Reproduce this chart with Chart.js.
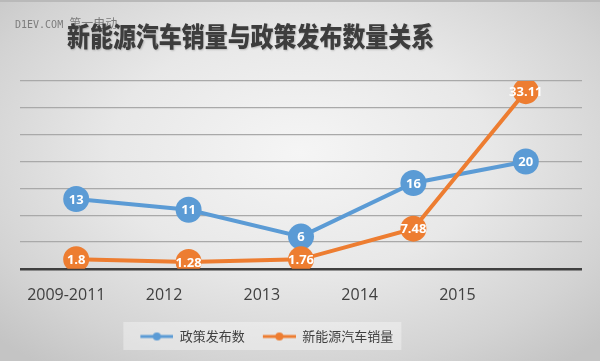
<!DOCTYPE html>
<html>
<head>
<meta charset="utf-8">
<script src="https://cdn.jsdelivr.net/npm/chart.js@4/dist/chart.umd.min.js"></script>
<style>
    html, body { margin: 0; padding: 0; }
    body { width: 600px; height: 361px; overflow: hidden; }
    #contenedor {
        position: relative;
        width: 600px;
        height: 361px;
        background: radial-gradient(ellipse 70% 75% at 50% 42%, #f5f5f5 0%, #e8e8e8 45%, #d3d3d3 80%, #c4c4c4 100%);
        border-top: 2px solid #b9b9b9;
        box-sizing: border-box;
    }
    #grafico { position: absolute; left: 0; top: -2px; }
    #marca {
        position: absolute; left: 15px; top: 12px;
        font: 10px "DejaVu Sans Mono", monospace; color: #7c7c7c; white-space: nowrap;
    }
    #marca span { font: 12px "Noto Sans CJK SC", sans-serif; }
    #titulo {
        position: absolute; left: 67px; top: 20px;
        font: 900 27px/27px "Noto Sans CJK SC", sans-serif; color: #3d3d3d;
        transform: scaleX(0.85); transform-origin: left top; white-space: nowrap;
        text-shadow: 1px 1px 2px rgba(0, 0, 0, 0.2);
    }
</style>
</head>
<body>
<div id="contenedor">
    <canvas id="grafico" width="600" height="361"></canvas>
    <div id="marca">D1EV.COM <span>第一电动</span></div>
    <div id="titulo">新能源汽车销量与政策发布数量关系</div>
</div>
<script>
// Datos del gráfico
const categorias = ['2009-2011', '2012', '2013', '2014', '2015'];
const politicas = [13, 11, 6, 16, 20];
const ventas = [1.8, 1.28, 1.76, 7.48, 33.11];
const nombresSeries = ['政策发布数', '新能源汽车销量'];
const limitesY = [0, 35];
const pasoY = 5;

const AZUL = '#5b9bd5';
const NARANJA = '#ed7d31';

// Área de trazado y compresión horizontal del texto (el original está "aplastado")
const IZQ = 20;
const ANCHO = 562;
const COMPRESION = 0.87;
const n = categorias.length;
const minX2 = -((COMPRESION - 1) * IZQ + COMPRESION * ANCHO * 0.5 / n) * n / (COMPRESION * ANCHO);
const maxX2 = minX2 + n / COMPRESION;

// Icono de la leyenda: línea con punto (con margen transparente a la izquierda)
const MARGEN_ICONO = 10;
function iconoLeyenda(color) {
    const c = document.createElement('canvas');
    c.width = 33 + MARGEN_ICONO;
    c.height = 10;
    const g = c.getContext('2d');
    g.strokeStyle = color;
    g.lineWidth = 3;
    g.beginPath();
    g.moveTo(MARGEN_ICONO, 5);
    g.lineTo(MARGEN_ICONO + 33, 5);
    g.stroke();
    g.fillStyle = color;
    g.beginPath();
    g.arc(MARGEN_ICONO + 16.5, 5, 4, 0, Math.PI * 2);
    g.fill();
    return c;
}
const iconos = [iconoLeyenda(AZUL), iconoLeyenda(NARANJA)];

// Etiquetas de valor dentro de los puntos
const pluginEtiquetas = {
    id: 'etiquetas',
    afterDatasetsDraw(chart) {
        const ctx = chart.ctx;
        ctx.save();
        ctx.font = 'bold 13px "Open Sans", sans-serif';
        ctx.fillStyle = '#ffffff';
        ctx.textAlign = 'center';
        ctx.textBaseline = 'middle';
        chart.data.datasets.forEach((ds, i) => {
            const meta = chart.getDatasetMeta(i);
            meta.data.forEach((pt, j) => {
                ctx.fillText(String(ds.data[j]), pt.x, pt.y + 1);
            });
        });
        ctx.restore();
    }
};

// Leyenda desplazada y con fondo claro
const pluginLeyenda = {
    id: 'fondoLeyenda',
    afterLayout(chart) {
        const desplazamiento = (COMPRESION - 1) * (IZQ + ANCHO / 2);
        chart.legend.left += desplazamiento;
        chart.legend.right += desplazamiento;
    },
    beforeDraw(chart) {
        const cajas = chart.legend.legendHitBoxes;
        if (!cajas || !cajas.length) return;
        const izq = Math.min(...cajas.map(c => c.left)) + MARGEN_ICONO - 17;
        const der = Math.max(...cajas.map(c => c.left + c.width)) + 8;
        const arriba = cajas[0].top - 8;
        const alto = cajas[0].height + 15;
        const ctx = chart.ctx;
        ctx.save();
        ctx.fillStyle = 'rgba(255, 255, 255, 0.35)';
        ctx.fillRect(izq, arriba, der - izq, alto);
        ctx.restore();
    }
};

new Chart(document.getElementById('grafico').getContext('2d'), {
    type: 'line',
    data: {
        labels: categorias,
        datasets: [{
            label: nombresSeries[0],
            data: politicas,
            borderColor: AZUL,
            backgroundColor: AZUL,
            borderWidth: 4,
            pointRadius: 13,
            pointHoverRadius: 13,
            pointBorderWidth: 0,
            order: 1
        }, {
            label: nombresSeries[1],
            data: ventas,
            borderColor: NARANJA,
            backgroundColor: NARANJA,
            borderWidth: 4,
            pointRadius: 13,
            pointHoverRadius: 13,
            pointBorderWidth: 0,
            order: 0
        }]
    },
    options: {
        responsive: false,
        animation: false,
        devicePixelRatio: 1,
        layout: { padding: { left: IZQ, right: 600 - IZQ - ANCHO, top: 81, bottom: 8 } },
        scales: {
            x: { type: 'category', display: false, offset: true },
            x2: {
                type: 'linear',
                position: 'bottom',
                min: minX2,
                max: maxX2,
                grid: { display: false, drawTicks: false },
                border: { display: false },
                afterBuildTicks: (eje) => { eje.ticks = categorias.map((_, i) => ({ value: i })); },
                ticks: {
                    autoSkip: false,
                    maxRotation: 0,
                    padding: 17,
                    color: '#404040',
                    font: { family: '"Open Sans", sans-serif', size: 16 },
                    callback: (v) => categorias[v] ?? ''
                }
            },
            y: {
                min: limitesY[0],
                max: limitesY[1],
                ticks: { display: false, stepSize: pasoY },
                border: { display: false },
                grid: {
                    drawTicks: false,
                    color: (c) => c.tick.value === 0 ? '#3f3f3f' : '#a9a9a9',
                    lineWidth: (c) => c.tick.value === 0 ? 2.5 : 1.2
                }
            }
        },
        plugins: {
            title: { display: false },
            tooltip: { enabled: false },
            legend: {
                position: 'bottom',
                labels: {
                    usePointStyle: true,
                    pointStyleWidth: 33 + MARGEN_ICONO,
                    color: '#404040',
                    padding: 8,
                    font: { family: '"Noto Sans CJK SC", sans-serif', size: 13 },
                    sort: (a, b) => a.datasetIndex - b.datasetIndex,
                    generateLabels(chart) {
                        const items = Chart.defaults.plugins.legend.labels.generateLabels(chart);
                        items.forEach(it => { it.pointStyle = iconos[it.datasetIndex]; });
                        return items;
                    }
                }
            }
        }
    },
    plugins: [pluginEtiquetas, pluginLeyenda]
});
</script>
</body>
</html>
